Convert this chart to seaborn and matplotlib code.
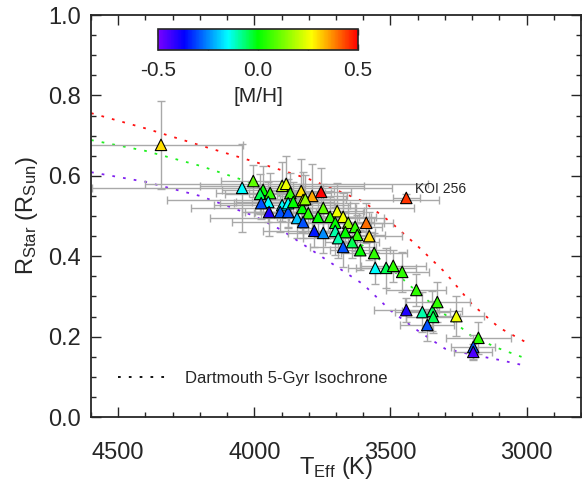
import numpy as np
import pandas as pd
import matplotlib
matplotlib.use('Agg')
import matplotlib.pyplot as plt
import seaborn as sns
from matplotlib.colors import LinearSegmentedColormap, Normalize
from matplotlib.lines import Line2D
from matplotlib.ticker import MultipleLocator

# Kepler M dwarfs: effective temperature, radius, metallicity
teff = [4343, 4045, 4004, 3968, 3979, 3942, 3949, 3975, 3946, 3898,
        3883, 3868, 3828, 3898, 3905, 3876, 3876, 3857, 3843, 3824,
        3821, 3788, 3755, 3813, 3747, 3696, 3722, 3674, 3802, 3766,
        3821, 3655, 3630, 3589, 3703, 3703, 3780, 3747, 3666, 3578,
        3622, 3692, 3674, 3641, 3611, 3560, 3556, 3516, 3490, 3457,
        3405, 3442, 3383, 3346, 3328, 3343, 3365, 3258, 3177, 3196,
        3196]
rstar = [0.677, 0.570, 0.587, 0.565, 0.555, 0.557, 0.535, 0.532, 0.510, 0.575,
         0.580, 0.557, 0.562, 0.527, 0.510, 0.510, 0.532, 0.535, 0.495, 0.520,
         0.540, 0.550, 0.560, 0.542, 0.520, 0.512, 0.498, 0.498, 0.507, 0.498,
         0.485, 0.483, 0.473, 0.483, 0.483, 0.463, 0.463, 0.458, 0.460, 0.450,
         0.453, 0.445, 0.423, 0.435, 0.415, 0.408, 0.371, 0.371, 0.376, 0.361,
         0.316, 0.266, 0.261, 0.264, 0.286, 0.249, 0.229, 0.251, 0.197, 0.174,
         0.162]
feh = [0.30, -0.15, 0.10, 0.00, -0.05, 0.05, -0.15, -0.30, -0.40, 0.20,
       0.25, 0.05, 0.30, -0.15, -0.30, -0.30, -0.15, 0.00, -0.20, 0.00,
       0.20, 0.35, 0.50, 0.15, 0.10, 0.25, 0.05, 0.25, 0.05, 0.00,
       -0.30, 0.15, 0.05, 0.40, 0.00, -0.10, -0.35, -0.25, 0.00, 0.30,
       0.05, -0.10, -0.30, -0.05, 0.00, 0.05, -0.15, -0.05, 0.05, 0.05,
       0.05, -0.40, -0.10, -0.05, 0.05, -0.05, -0.30, 0.25, 0.05, -0.30,
       -0.45]
teff_err = [300, 550, 120, 150, 130, 200, 120, 150, 100, 300,
            520, 150, 120, 250, 130, 120, 200, 150, 320, 410,
            500, 130, 110, 150, 120, 100, 150, 120, 200, 150,
            260, 130, 100, 100, 130, 120, 190, 130, 110, 120,
            100, 130, 120, 100, 110, 120, 100, 110, 120, 100,
            110, 120, 100, 110, 120, 100, 100, 100, 120, 80,
            70]
rstar_err = [0.110, 0.110, 0.040, 0.060, 0.050, 0.050, 0.050, 0.040, 0.060, 0.060,
             0.070, 0.050, 0.080, 0.040, 0.050, 0.040, 0.060, 0.050, 0.050, 0.060,
             0.070, 0.080, 0.060, 0.060, 0.060, 0.070, 0.050, 0.060, 0.050, 0.050,
             0.040, 0.050, 0.060, 0.050, 0.050, 0.060, 0.040, 0.050, 0.050, 0.060,
             0.050, 0.050, 0.050, 0.040, 0.050, 0.050, 0.040, 0.050, 0.040, 0.050,
             0.040, 0.030, 0.050, 0.050, 0.050, 0.040, 0.040, 0.050, 0.040, 0.030,
             0.020]

# KOI 256
koi_teff = [3442]
koi_r = [0.545]
koi_feh = [0.45]
koi_teff_err = [50]
koi_r_err = [0.01]

# Dartmouth 5 Gyr isochrones
iso_teff = [4600, 4400, 4200, 4000, 3900, 3800, 3700, 3600, 3500, 3400, 3300, 3200, 3100, 3000]
iso_r_plus = [0.756, 0.718, 0.676, 0.635, 0.614, 0.592, 0.565, 0.536, 0.485, 0.425, 0.360, 0.280, 0.222, 0.185]
iso_r_solar = [0.689, 0.662, 0.625, 0.580, 0.550, 0.515, 0.475, 0.425, 0.370, 0.310, 0.255, 0.200, 0.170, 0.145]
iso_r_minus = [0.609, 0.585, 0.550, 0.500, 0.465, 0.420, 0.375, 0.330, 0.265, 0.215, 0.170, 0.155, 0.142, 0.127]

sns.set_style('ticks')
plt.rcParams['font.family'] = ['Liberation Sans', 'DejaVu Sans']
plt.rcParams['mathtext.fontset'] = 'custom'
plt.rcParams['mathtext.rm'] = 'Liberation Sans'
plt.rcParams['mathtext.it'] = 'Liberation Sans'

cmap = LinearSegmentedColormap.from_list('idl_rainbow', [
    (0.0, '#7800ff'), (0.13, '#0000ff'), (0.35, '#00ffff'),
    (0.5, '#00ff00'), (0.77, '#ffff00'), (1.0, '#ff0000')])
norm = Normalize(-0.5, 0.5)

fig = plt.figure(figsize=(5.82, 4.84), dpi=100)
ax = fig.add_axes([0.1564, 0.1384, 0.842, 0.8306])

iso = pd.concat([
    pd.DataFrame({'teff': iso_teff, 'r': iso_r_plus, 'z': '+0.5'}),
    pd.DataFrame({'teff': iso_teff, 'r': iso_r_solar, 'z': '0.0'}),
    pd.DataFrame({'teff': iso_teff, 'r': iso_r_minus, 'z': '-0.5'}),
])
dots = (0, (1.5, 4.5))
sns.lineplot(data=iso, x='teff', y='r', hue='z', estimator=None, sort=False,
             palette={'+0.5': '#ff1010', '0.0': '#20f020', '-0.5': '#8020f0'},
             linestyle=dots, linewidth=1.3, legend=False, ax=ax, zorder=1)

ax.errorbar(teff + koi_teff, rstar + koi_r, xerr=teff_err + koi_teff_err,
            yerr=rstar_err + koi_r_err, fmt='none', ecolor='#a9a9a9',
            elinewidth=1, capsize=3, capthick=1, zorder=2)

stars = pd.DataFrame({'teff': teff + koi_teff, 'r': rstar + koi_r, 'feh': feh + koi_feh})
sns.scatterplot(data=stars, x='teff', y='r', hue='feh', palette=cmap, hue_norm=norm,
                marker='^', s=68, edgecolor='black', linewidth=0.8,
                legend=False, ax=ax, zorder=3)

ax.text(3410, 0.567, 'KOI 256', fontsize=10, ha='left', va='center')

ax.set_xlim(4600, 2800)
ax.set_ylim(0.0, 1.0)
ax.xaxis.set_major_locator(MultipleLocator(500))
ax.xaxis.set_minor_locator(MultipleLocator(100))
ax.yaxis.set_major_locator(MultipleLocator(0.2))
ax.yaxis.set_minor_locator(MultipleLocator(0.05))
ax.tick_params(which='both', direction='in', top=True, right=True, width=1, labelsize=17)
ax.tick_params(which='major', length=7)
ax.tick_params(which='minor', length=3.5)
ax.tick_params(axis='x', pad=18)
ax.tick_params(axis='y', pad=7)
for s in ax.spines.values():
    s.set_linewidth(1.3)

ax.set_xlabel(r'T$_{\rm Eff}$ (K)', fontsize=17)
ax.xaxis.set_label_coords(0.5, -0.095)
ax.set_ylabel(r'R$_{\rm Star}$ (R$_{\rm Sun}$)', fontsize=17, labelpad=6)

handle = Line2D([], [], color='black', linestyle=dots, linewidth=1.3)
ax.legend([handle], ['Dartmouth 5-Gyr Isochrone'], loc='lower left',
          bbox_to_anchor=(0.025, 0.04), frameon=False, fontsize=12,
          handlelength=3.0, handletextpad=1.0)

cax = fig.add_axes([0.2715, 0.8967, 0.3436, 0.0434])
sm = plt.cm.ScalarMappable(norm=norm, cmap=cmap)
cb = fig.colorbar(sm, cax=cax, orientation='horizontal')
cb.set_ticks([-0.5, -0.25, 0.0, 0.25, 0.5])
cb.set_ticklabels(['-0.5', '', '0.0', '', '0.5'])
cax.tick_params(direction='in', top=True, bottom=True, length=4, width=1,
                labelsize=15, pad=8)
cb.outline.set_linewidth(1.2)
cb.set_label('[M/H]', fontsize=15, labelpad=5)

fig.savefig('out.png', dpi=100)
